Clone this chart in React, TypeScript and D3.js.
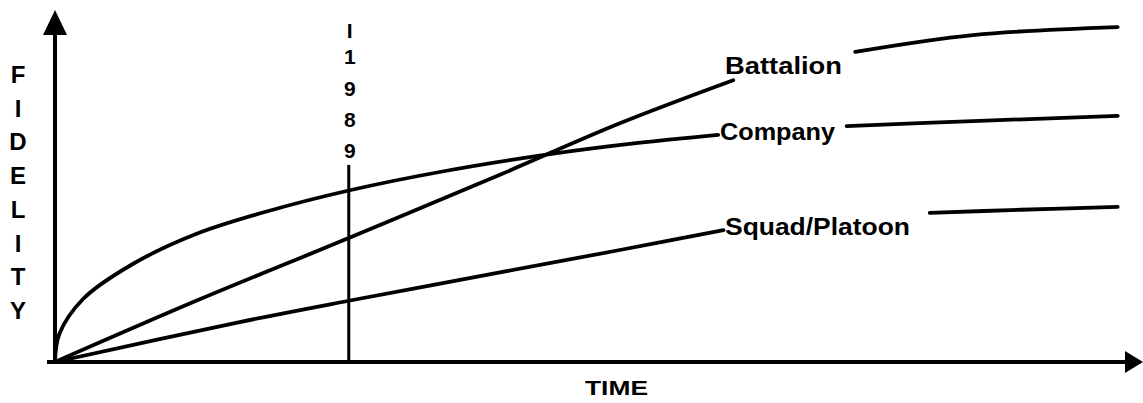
import * as d3 from "d3";

type Pt = [number, number];

// time (0-100) vs fidelity (0-100)
const battalionA: Pt[] = [[0, 0], [13.4, 17.9], [27.2, 35.4], [41.2, 53.5], [52.3, 68.2], [62.8, 80.5]];
const battalionB: Pt[] = [[74.1, 88.6], [85, 93.4], [98.4, 95.7]];

const companyA: Pt[] = [
    [0, 0], [0.4, 8], [2.6, 18], [7.2, 28], [13, 36.5], [19.6, 43],
    [27.2, 49], [36, 54.5], [46.3, 59.6], [54, 62.6], [61.4, 64.9],
];
const companyB: Pt[] = [[73.3, 67.4], [85.6, 68.9], [98.4, 70.3]];

const squadA: Pt[] = [[0, 0], [17.1, 11.4], [27.2, 17.5], [41.2, 25.6], [52.3, 32], [61.9, 37.7]];
const squadB: Pt[] = [[81, 42.6], [89.4, 43.5], [98.4, 44.3]];

const markerTime = 27.2;
const markerTop = 56.3;
const markerText = ["I", "1", "9", "8", "9"];
const yTitle = "FIDELITY".split("");
const xTitle = "TIME";

const W = 1143;
const H = 403;
const font = "'Liberation Sans', Arial, Helvetica, sans-serif";

const x = d3.scaleLinear().domain([0, 100]).range([55, 1135]);
const y = d3.scaleLinear().domain([0, 100]).range([362, 12]);

const line = d3
    .line<Pt>()
    .x((d) => x(d[0]))
    .y((d) => y(d[1]))
    .curve(d3.curveCatmullRom.alpha(0.5));

const labels = [
    { text: "Battalion", x: 725, y: 74, w: 117 },
    { text: "Company", x: 720, y: 140, w: 115 },
    { text: "Squad/Platoon", x: 725, y: 235, w: 185 },
];

export default function App() {
    const x0 = x(0);
    const y0 = y(0);
    return (
        <svg
            width={W}
            height={H}
            style={{ position: "fixed", left: 0, top: 0, background: "#fff" }}
            fontFamily={font}
        >
            {/* Axes */}
            <line x1={x0} y1={y0} x2={x0} y2={30} stroke="#000" strokeWidth={4} />
            <path d={`M ${x0} 10 L ${x0 + 12} 35 L ${x0 - 12} 35 Z`} fill="#000" />
            <line x1={x0 - 8} y1={y0} x2={1128} y2={y0} stroke="#000" strokeWidth={4} />
            <path d={`M 1143 ${y0} L 1125 ${y0 - 11} L 1125 ${y0 + 11} Z`} fill="#000" />

            {/* 1989 marker */}
            <line
                x1={x(markerTime)}
                x2={x(markerTime)}
                y1={y0}
                y2={y(markerTop)}
                stroke="#000"
                strokeWidth={3}
            />
            {markerText.map((c, i) => (
                <text
                    key={i}
                    x={x(markerTime) + 1}
                    y={[38, 64, 96, 127, 158][i]}
                    textAnchor="middle"
                    fontSize={21}
                    fontWeight={700}
                >
                    {c}
                </text>
            ))}

            {/* Series */}
            {[battalionA, battalionB, companyA, companyB, squadA, squadB].map((pts, i) => (
                <path
                    key={i}
                    d={line(pts) ?? ""}
                    fill="none"
                    stroke="#000"
                    strokeWidth={3.8}
                    strokeLinecap="round"
                    strokeLinejoin="round"
                />
            ))}

            {labels.map((l) => (
                <text
                    key={l.text}
                    x={l.x}
                    y={l.y}
                    fontSize={24}
                    fontWeight={700}
                    textLength={l.w}
                    lengthAdjust="spacingAndGlyphs"
                >
                    {l.text}
                </text>
            ))}

            {/* Axis titles */}
            {yTitle.map((c, i) => (
                <text key={i} x={18} y={83 + i * 33.7} textAnchor="middle" fontSize={24} fontWeight={700}>
                    {c}
                </text>
            ))}
            <text x={585} y={395} fontSize={21} fontWeight={700} textLength={63} lengthAdjust="spacingAndGlyphs">
                {xTitle}
            </text>
        </svg>
    );
}
